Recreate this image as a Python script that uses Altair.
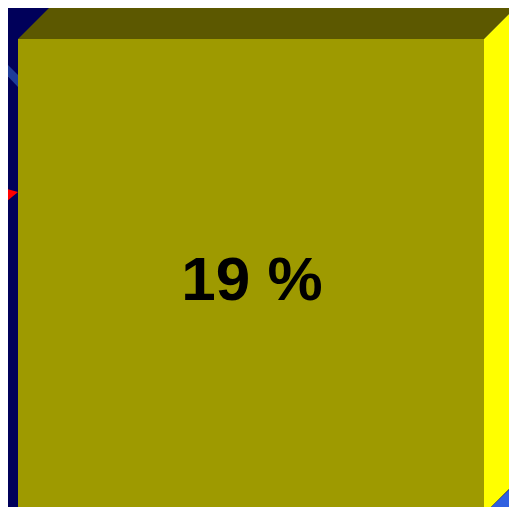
import altair as alt
import pandas as pd

# ---- data (one bar of a 3D column chart, value in %) ----
bar_value = [19]
bar_label = ["19 %"]
bar_left = [10]        # x units
bar_right = [476]
depth_x = [34]         # 3D depth offset, x units
depth_y = [1.36]       # 3D depth offset, value units

# neighbouring pieces of other series peeking in at the edges
stripe_x = [-8, 10]
stripe_lo = [17.84, 17.08]
stripe_hi = [18.28, 17.56]
red_x = [-8, 10]
red_lo = [12.28, 12.88]
red_hi = [13.08, 12.88]

NAVY = "#00005a"
FRONT = "#9e9a00"
TOP = "#5c5800"
SIDE = "#ffff00"

v = bar_value[0]
x0, x1 = bar_left[0], bar_right[0]
dx, dy = depth_x[0], depth_y[0]

xs = alt.Scale(domain=[0, 501], nice=False, zero=False)
ys = alt.Scale(domain=[0.28, 20.24], nice=False, zero=False)

def area(df, color):
    return alt.Chart(df).mark_area(color=color, clip=True, orient="vertical",
                                   interpolate="linear", opacity=1).encode(
        x=alt.X("px:Q", scale=xs, axis=None),
        y=alt.Y("ylo:Q", scale=ys, axis=None, stack=None),
        y2="yhi:Q",
    )

stripe = area(pd.DataFrame({"px": stripe_x, "ylo": stripe_lo, "yhi": stripe_hi}), "#1e3c99")
red = area(pd.DataFrame({"px": red_x, "ylo": red_lo, "yhi": red_hi}), "#ff0000")

top = area(pd.DataFrame({
    "px": [x0, x0 + dx, x1, x1 + dx],
    "ylo": [v, v, v, v + dy],
    "yhi": [v, v + dy, v + dy, v + dy],
}), TOP)

side = area(pd.DataFrame({
    "px": [x1, x1 + dx],
    "ylo": [0, dy],
    "yhi": [v, v + dy],
}), SIDE)

blue = area(pd.DataFrame({
    "px": [x1, x1 + dx],
    "ylo": [0, -0.2],
    "yhi": [0, dy - 0.04],
}), "#3060e0")

front = alt.Chart(pd.DataFrame({"px": [x0], "px2": [x1], "ylo": [0], "yhi": [v]})).mark_rect(
    color=FRONT, clip=True
).encode(
    x=alt.X("px:Q", scale=xs, axis=None), x2="px2:Q",
    y=alt.Y("ylo:Q", scale=ys, axis=None), y2="yhi:Q",
)

text = alt.Chart(pd.DataFrame({"px": [(x0 + x1) / 2], "ylo": [v / 2], "t": bar_label})).mark_text(
    font="Liberation Sans", fontWeight="bold", fontSize=62, color="black",
    baseline="middle", align="center", dy=4, dx=1,
).encode(
    x=alt.X("px:Q", scale=xs, axis=None),
    y=alt.Y("ylo:Q", scale=ys, axis=None),
    text="t:N",
)

chart = alt.layer(stripe, red, top, side, blue, front, text).properties(
    width=501, height=499, padding=0, background=NAVY,
    autosize=alt.AutoSizeParams(type="none"),
).configure_view(stroke=None)

chart.save("out.html", embed_options={"renderer": "svg", "actions": False})
